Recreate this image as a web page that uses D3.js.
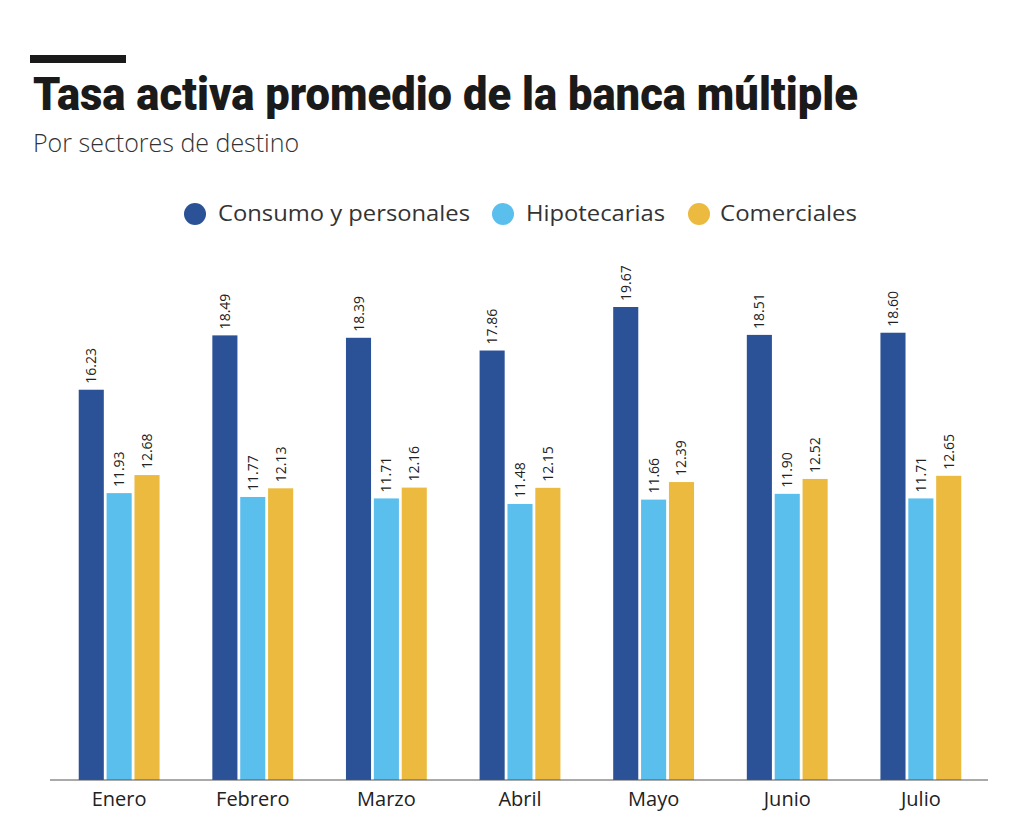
<!DOCTYPE html>
<html><head><meta charset="utf-8">
<script src="https://cdn.jsdelivr.net/npm/d3@7"></script>
<style>body{margin:0;background:#fff}</style>
</head><body>
<svg id="chart" width="1024" height="817"></svg>
<script>
// data
var months = ['Enero','Febrero','Marzo','Abril','Mayo','Junio','Julio'];
var seriesNames = ['Consumo y personales','Hipotecarias','Comerciales'];
var consumo = [16.23,18.49,18.39,17.86,19.67,18.51,18.60];
var hipotecarias = [11.93,11.77,11.71,11.48,11.66,11.90,11.71];
var comerciales = [12.68,12.13,12.16,12.15,12.39,12.52,12.65];
var colors = ['#2b5296','#5bbfee','#ebba3e'];

var svg = d3.select('#chart');
var font = 'Open Sans, sans-serif';

//header
svg.append('rect').attr('x',30).attr('y',55).attr('width',96).attr('height',8).attr('fill','#1a1a1a');
svg.append('text').attr('x',33).attr('y',110).text('Tasa activa promedio de la banca múltiple')
    .attr('font-family','Roboto').attr('font-weight',900).attr('font-size',46)
    .attr('fill','#1a1a1a').attr('textLength',825).attr('lengthAdjust','spacingAndGlyphs');
svg.append('text').attr('x',33).attr('y',152).text('Por sectores de destino')
    .attr('font-family',font).attr('font-weight',300).attr('font-size',25).attr('fill','#333');

//legend
var legendX = [[195,218,252],[503,526,139],[699,720,137]];
seriesNames.forEach(function(n,i){
    svg.append('circle').attr('cx',legendX[i][0]).attr('cy',214).attr('r',11).attr('fill',colors[i]);
    svg.append('text').attr('x',legendX[i][1]).attr('y',221).text(n)
        .attr('font-family',font).attr('font-size',21).attr('fill','#333')
        .attr('textLength',legendX[i][2]).attr('lengthAdjust','spacingAndGlyphs');
});

var x0 = d3.scaleBand().domain(months).range([52,988]).paddingInner(0.395).paddingOuter(0.2);
var x1 = d3.scaleBand().domain([0,1,2]).range([0,x0.bandwidth()]).paddingInner(0.1);
var y = d3.scaleLinear().domain([0,19.67]).range([780,307]);

var data = [consumo,hipotecarias,comerciales];
var g = svg.append('g');
months.forEach(function(m,mi){
    data.forEach(function(s,si){
        var bx = x0(m)+x1(si), by = y(s[mi]);
        g.append('rect').attr('x',bx).attr('y',by).attr('width',x1.bandwidth())
            .attr('height',780-by).attr('fill',colors[si]);
        g.append('text').attr('transform','translate('+(bx+x1.bandwidth()/2+5)+','+(by-6)+') rotate(-90)')
            .text(s[mi].toFixed(2)).attr('font-family',font).attr('font-size',14).attr('fill','#222');
    });
});

var axis = svg.append('g').attr('transform','translate(0,780)')
    .call(d3.axisBottom(x0).tickSize(0).tickPadding(12));
axis.select('.domain').attr('stroke','#555').attr('d','M50,0H988');
axis.selectAll('text').attr('font-family',font).attr('font-size',20).attr('fill','#222');
</script>
</body></html>
